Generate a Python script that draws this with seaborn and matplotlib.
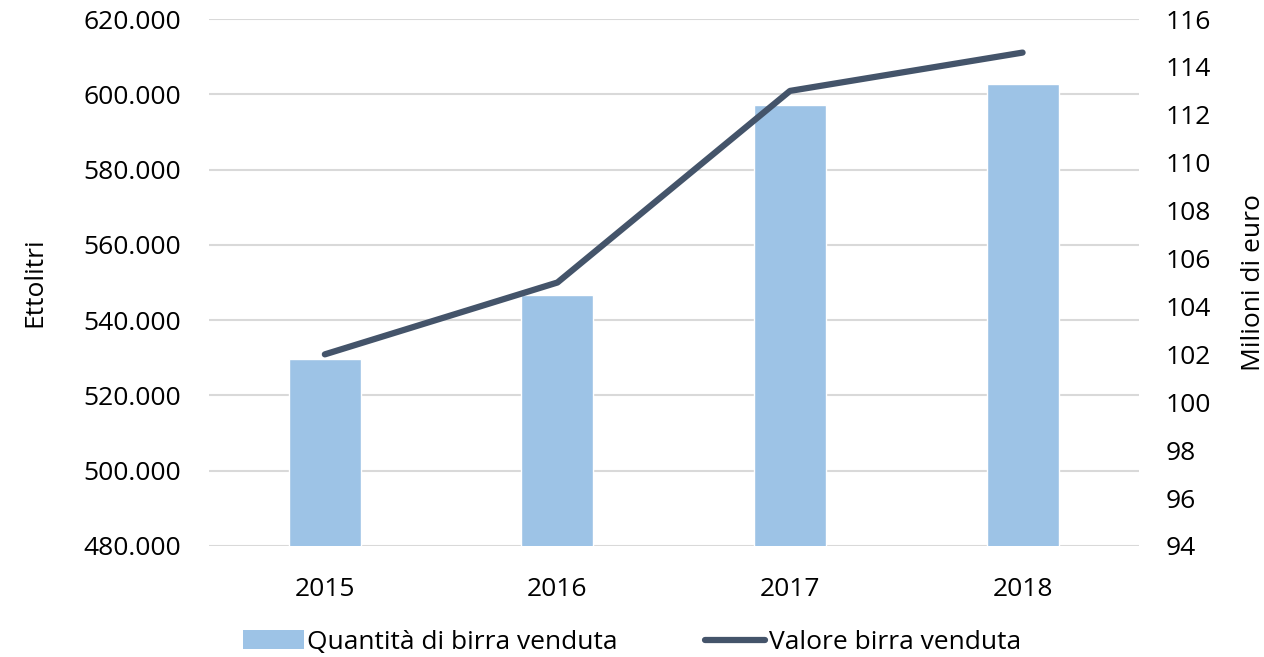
import numpy as np
import pandas as pd
import matplotlib.pyplot as plt
import matplotlib.ticker as mticker
from matplotlib.patches import Patch
from matplotlib.lines import Line2D
import seaborn as sns

# Dati
anni = ['2015', '2016', '2017', '2018']
quantita = [529800, 546600, 597200, 602700]   # ettolitri
valore = [102.0, 105.0, 113.0, 114.6]          # milioni di euro

bar_color = '#9DC3E6'
line_color = '#44546A'

sns.set_theme(style='white')
plt.rcParams['font.family'] = ['Open Sans', 'DejaVu Sans']

df = pd.DataFrame({'anno': anni, 'quantita': quantita, 'valore': valore})

fig = plt.figure(figsize=(12.64, 6.57), dpi=100)
ax = fig.add_axes([0.165, 0.169, 0.736, 0.802])

sns.barplot(data=df, x='anno', y='quantita', color=bar_color, width=0.31,
            saturation=1, ax=ax, zorder=2)
ax.set_ylim(480000, 620000)
ax.set_yticks(np.arange(480000, 620001, 20000))
ax.yaxis.set_major_formatter(mticker.FuncFormatter(lambda v, p: f'{int(v):,}'.replace(',', '.')))
ax.grid(axis='y', color='#D9D9D9', linewidth=1.5, zorder=0)
ax.set_axisbelow(True)
ax.set_xlabel('')
ax.set_ylabel('Ettolitri', fontsize=19, labelpad=26, color='black')
ax.tick_params(axis='both', labelsize=19, length=0, colors='black')
ax.tick_params(axis='y', pad=20)
ax.tick_params(axis='x', pad=22)
for s in ax.spines.values():
    s.set_visible(False)

ax2 = ax.twinx()
sns.lineplot(x=np.arange(len(anni)), y=df['valore'], color=line_color, linewidth=4.5,
             solid_capstyle='round', ax=ax2)
ax2.set_ylim(94, 116)
ax2.set_yticks(np.arange(94, 117, 2))
ax2.set_xlim(-0.5, len(anni) - 0.5)
ax2.set_ylabel('Milioni di euro', fontsize=19, labelpad=22, color='black')
ax2.tick_params(axis='y', labelsize=19, length=0, colors='black', pad=19)
for s in ax2.spines.values():
    s.set_visible(False)

handles = [Patch(facecolor=bar_color, edgecolor='none'),
           Line2D([0], [0], color=line_color, linewidth=4.5)]
fig.legend(handles, ['Quantità di birra venduta', 'Valore birra venduta'],
           loc='lower center', bbox_to_anchor=(0.5, -0.033), ncol=2, frameon=False,
           fontsize=19, labelcolor='black', columnspacing=3.3, handlelength=2.3,
           handletextpad=0.12)

fig.savefig('out.png', dpi=100)
